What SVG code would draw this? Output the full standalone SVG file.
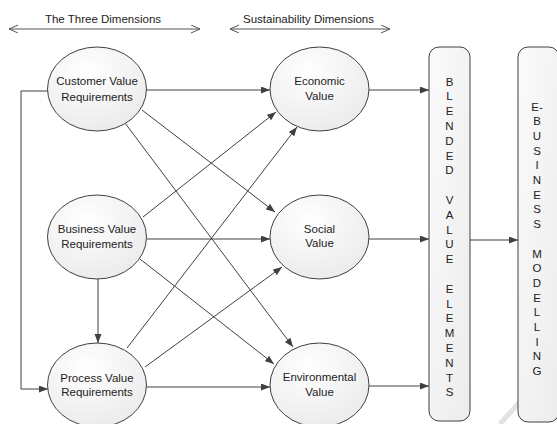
<svg xmlns="http://www.w3.org/2000/svg" width="557" height="424" viewBox="0 0 557 424">
<defs>
<radialGradient id="eg" cx="40%" cy="30%" r="80%">
<stop offset="0" stop-color="#ffffff"/>
<stop offset="1" stop-color="#e9e9e9"/>
</radialGradient>
<linearGradient id="bg" x1="0" y1="0" x2="1" y2="1">
<stop offset="0" stop-color="#fbfbfb"/>
<stop offset="1" stop-color="#ececec"/>
</linearGradient>
<marker id="ah" markerUnits="userSpaceOnUse" markerWidth="10" markerHeight="8" refX="9" refY="3.5" orient="auto">
<path d="M0,0 L9,3.5 L0,7 z" fill="#404040"/>
</marker>
<marker id="oh" markerUnits="userSpaceOnUse" markerWidth="12" markerHeight="10" refX="9" refY="4" orient="auto-start-reverse">
<path d="M0,0 L9,4 L0,8" fill="none" stroke="#555" stroke-width="1"/>
</marker>
</defs>
<style>
.n ellipse{fill:url(#eg);stroke:#404040;stroke-width:1}
.n rect{fill:url(#bg);stroke:#404040;stroke-width:1}
text{font-family:"Liberation Sans",Arial,sans-serif;font-size:11.5px;fill:#222;text-anchor:middle}
.c line,.c polyline{stroke:#404040;stroke-width:1;fill:none;marker-end:url(#ah)}
.d line{stroke:#555;stroke-width:1;marker-start:url(#oh);marker-end:url(#oh)}
</style>
<rect width="557" height="424" fill="#ffffff"/>
<path d="M557,360 L500,424" stroke="#e2e2e2" stroke-width="5" fill="none"/>
<g id="dimensions" class="d">
<text x="103" y="23">The Three Dimensions</text>
<line x1="9" y1="29" x2="200" y2="29"/>
<text x="308.5" y="23">Sustainability Dimensions</text>
<line x1="230" y1="29" x2="390" y2="29"/>
</g>
<g id="connectors" class="c">
<polyline points="48,91 21,91 21,389 48,389"/>
<line x1="147" y1="90" x2="270" y2="90"/>
<line x1="142" y1="110" x2="275" y2="212"/>
<line x1="125" y1="123" x2="293" y2="347"/>
<line x1="143" y1="217" x2="276" y2="112"/>
<line x1="147" y1="239" x2="270" y2="239"/>
<line x1="140" y1="259" x2="274" y2="364"/>
<line x1="98" y1="279" x2="98" y2="343"/>
<line x1="127" y1="348" x2="297" y2="127"/>
<line x1="145" y1="367" x2="282" y2="267"/>
<line x1="147" y1="387" x2="270" y2="387"/>
<line x1="369" y1="90" x2="429" y2="90"/>
<line x1="369" y1="239" x2="429" y2="239"/>
<line x1="369" y1="386" x2="429" y2="386"/>
<line x1="470" y1="240" x2="518" y2="240"/>
</g>
<g id="customer" class="n">
<ellipse cx="97" cy="89" rx="49.5" ry="42"/>
<text x="97" y="84.5">Customer Value</text>
<text x="97" y="100.5">Requirements</text>
</g>
<g id="business" class="n">
<ellipse cx="97" cy="237" rx="49.5" ry="42"/>
<text x="97" y="233">Business Value</text>
<text x="97" y="247.5">Requirements</text>
</g>
<g id="process" class="n">
<ellipse cx="97" cy="385" rx="49.5" ry="42"/>
<text x="97" y="381.5">Process Value</text>
<text x="97" y="396">Requirements</text>
</g>
<g id="economic" class="n">
<ellipse cx="319.5" cy="89" rx="49.5" ry="42"/>
<text x="319.5" y="85">Economic</text>
<text x="319.5" y="100">Value</text>
</g>
<g id="social" class="n">
<ellipse cx="319.5" cy="237" rx="49.5" ry="42"/>
<text x="319.5" y="233">Social</text>
<text x="319.5" y="247">Value</text>
</g>
<g id="environmental" class="n">
<ellipse cx="319.5" cy="385" rx="49.5" ry="42"/>
<text x="319.5" y="381">Environmental</text>
<text x="319.5" y="396">Value</text>
</g>
<g id="blended" class="n">
<rect x="429" y="47" width="41" height="374" rx="10"/>
<text x="449.5" y="85.5">B</text>
<text x="449.5" y="100.3">L</text>
<text x="449.5" y="115.1">E</text>
<text x="449.5" y="129.9">N</text>
<text x="449.5" y="144.7">D</text>
<text x="449.5" y="159.5">E</text>
<text x="449.5" y="174.3">D</text>
<text x="449.5" y="203.9">V</text>
<text x="449.5" y="218.7">A</text>
<text x="449.5" y="233.5">L</text>
<text x="449.5" y="248.3">U</text>
<text x="449.5" y="263.1">E</text>
<text x="449.5" y="292.7">E</text>
<text x="449.5" y="307.5">L</text>
<text x="449.5" y="322.3">E</text>
<text x="449.5" y="337.1">M</text>
<text x="449.5" y="351.9">E</text>
<text x="449.5" y="366.7">N</text>
<text x="449.5" y="381.5">T</text>
<text x="449.5" y="396.3">S</text>
</g>
<g id="ebusiness" class="n">
<rect x="518" y="47" width="41" height="375" rx="10"/>
<text x="537" y="110.5">E-</text>
<text x="537" y="125.2">B</text>
<text x="537" y="139.9">U</text>
<text x="537" y="154.6">S</text>
<text x="537" y="169.3">I</text>
<text x="537" y="184">N</text>
<text x="537" y="198.7">E</text>
<text x="537" y="213.4">S</text>
<text x="537" y="228.1">S</text>
<text x="537" y="257.5">M</text>
<text x="537" y="272.2">O</text>
<text x="537" y="286.9">D</text>
<text x="537" y="301.6">E</text>
<text x="537" y="316.3">L</text>
<text x="537" y="331">L</text>
<text x="537" y="345.7">I</text>
<text x="537" y="360.4">N</text>
<text x="537" y="375.1">G</text>
</g>
</svg>
